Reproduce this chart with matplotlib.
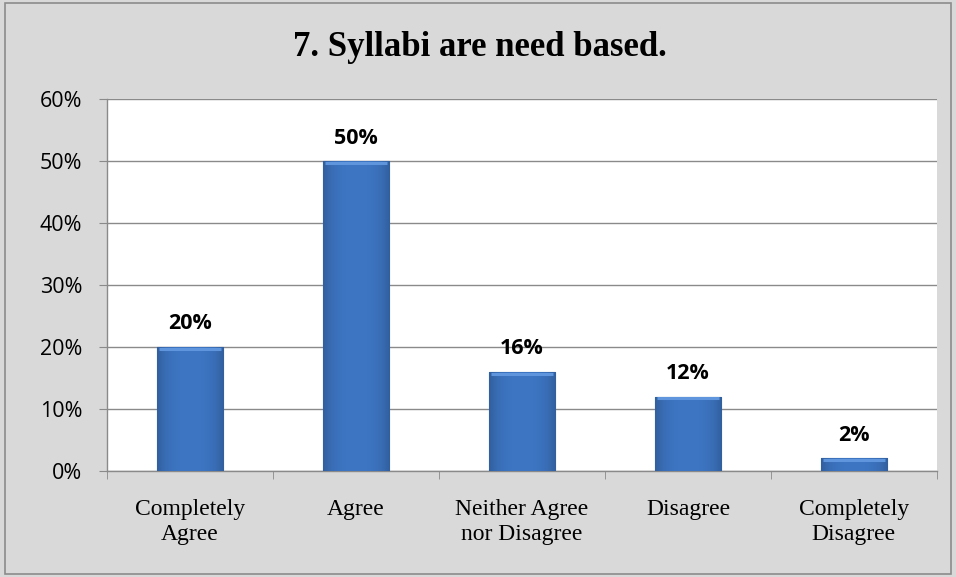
import matplotlib.pyplot as plt
import numpy as np
from matplotlib.patches import Rectangle

categories = ["Completely\nAgree", "Agree", "Neither Agree\nnor Disagree", "Disagree", "Completely\nDisagree"]
values = [20, 50, 16, 12, 2]
yticks = [0, 10, 20, 30, 40, 50, 60]

fig = plt.figure(figsize=(9.56, 5.77), dpi=100)
fig.patch.set_facecolor("#d9d9d9")
fig.patches.append(Rectangle((0.005, 0.005), 0.99, 0.99, transform=fig.transFigure,
                             fill=False, edgecolor="#8c8c8c", linewidth=1.2))

ax = fig.add_axes([0.112, 0.184, 0.868, 0.644])
ax.set_facecolor("white")

x = np.arange(len(values))
bars = ax.bar(x, values, width=0.4, color="#3a6fb8", edgecolor="#24497f", linewidth=0.8, zorder=3)

# soft shading on each bar, darker towards the sides
grad = np.linspace(-1, 1, 64)
grad = 1.05 - 0.2 * np.abs(grad) ** 3
img = np.ones((2, 64, 3))
base = np.array([0.23, 0.44, 0.73])
img[:, :] = np.clip(base * grad[:, None], 0, 1)
for b in bars:
    im = ax.imshow(img, extent=[b.get_x(), b.get_x() + b.get_width(), 0, b.get_height()],
                   aspect="auto", zorder=3.5, interpolation="bicubic")
    im.set_clip_path(b)
    ax.plot([b.get_x() + 0.015, b.get_x() + b.get_width() - 0.015],
            [b.get_height() - 0.3] * 2, color="#5e95dc", linewidth=2.2, zorder=4,
            solid_capstyle="butt")

for xi, v in zip(x, values):
    ax.annotate(f"{v}%", (xi, v), xytext=(0, 9), textcoords="offset points",
                ha="center", va="bottom", fontsize=15.5, fontweight="bold",
                family=["Open Sans", "DejaVu Sans"])

ax.set_xlim(-0.5, len(values) - 0.5)
ax.set_ylim(0, 60)
ax.set_yticks(yticks)
ax.set_yticklabels([f"{t}%" for t in yticks], family=["Open Sans", "DejaVu Sans"], fontsize=15.5)
ax.yaxis.grid(True, color="#8a8a8a", linewidth=1, zorder=0)
ax.set_axisbelow(True)

ax.set_xticks(x)
ax.set_xticklabels(categories, family="Liberation Serif", fontsize=17, linespacing=1.3)
ax.set_xticks(np.arange(-0.5, len(values)), minor=True)
ax.tick_params(axis="x", which="major", length=0, pad=20)
ax.tick_params(axis="x", which="minor", length=6, color="#8a8a8a", direction="out")
ax.tick_params(axis="y", length=6, color="#8a8a8a", pad=12)

for s in ["top", "right"]:
    ax.spines[s].set_visible(False)
for s in ["left", "bottom"]:
    ax.spines[s].set_color("#8a8a8a")
    ax.spines[s].set_linewidth(1)

fig.text(0.502, 0.918, "7. Syllabi are need based.", ha="center", va="center",
         fontsize=25, fontweight="bold", family="Liberation Serif")

fig.savefig("out.png", dpi=100, facecolor=fig.get_facecolor())
